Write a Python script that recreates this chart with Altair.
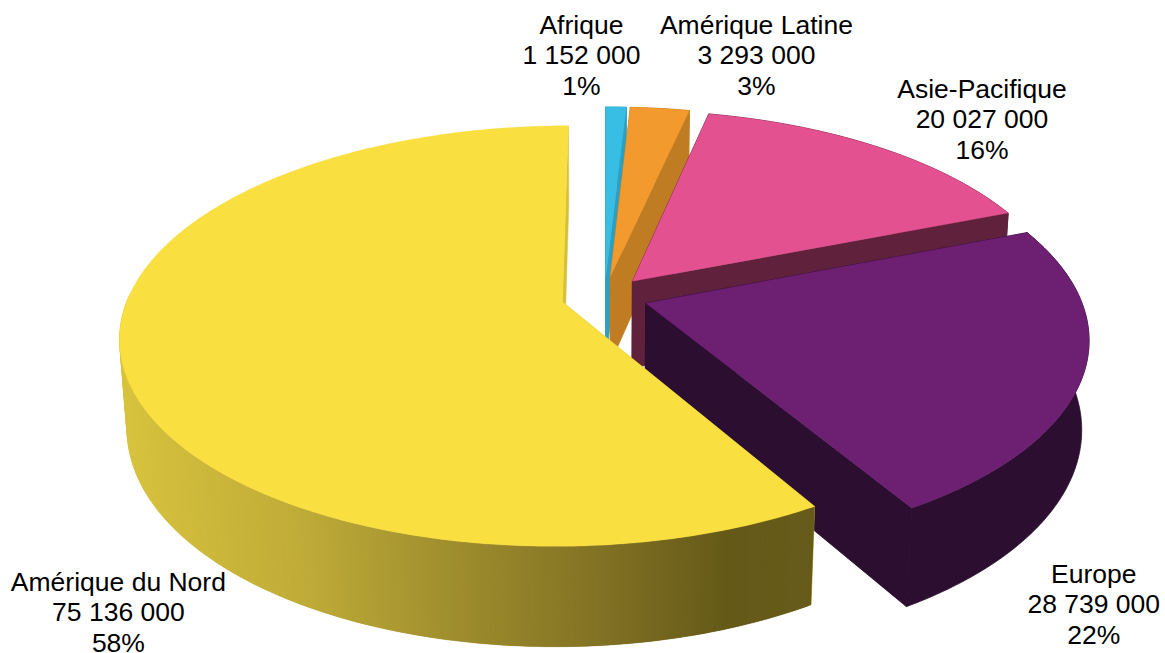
import math
import numpy as np
import altair as alt

# Market figures per region, listed clockwise from twelve o'clock
regions = ["Afrique", "Amérique Latine", "Asie-Pacifique", "Europe", "Amérique du Nord"]
values = [1152000, 3293000, 20027000, 28739000, 75136000]
shares = ["1%", "3%", "16%", "22%", "58%"]
value_labels = ["1 152 000", "3 293 000", "20 027 000", "28 739 000", "75 136 000"]

top_colors = ["#38bde4", "#f29a2e", "#e45190", "#6d1f71", "#f9df3f"]
side_colors = ["#2e9fc0", "#c07c22", "#60213c", "#2b0e30", "#d5c038"]

# Camera model of the tilted disc
CENTER_X, CENTER_Y = 604.5, 296.5
RADIUS_X, RADIUS_Y = 434.0, 203.0
TILT = 0.1617
THICKNESS = 89.0
THICK_TILT = 0.015
EXPLODE = 0.10

# Shading of the big slice's rim, from left to right on screen
RIM_X = [120, 300, 400, 500, 600, 700, 730, 810]
RIM_RGB = [(216, 195, 62), (192, 172, 56), (170, 152, 50), (150, 133, 42),
           (130, 114, 36), (108, 95, 28), (101, 89, 24), (102, 91, 26)]

# Label nudges from the slice's rim point, in pixels
LABEL_NUDGE = [(-34.5, -81), (96.5, -82.5), (104, -57.5), (10, 201.5), (-3, 224)]


def project(px, pz, depth=0.0):
    w = 1 + TILT * pz + THICK_TILT * depth
    return (CENTER_X + RADIUS_X * px / w,
            CENTER_Y + (-RADIUS_Y * pz + THICKNESS * depth) / w)


def polar(deg, radius=1.0):
    a = math.radians(deg)
    return math.sin(a) * radius, math.cos(a) * radius


def rim_color(x):
    rgb = [np.interp(x, RIM_X, [c[i] for c in RIM_RGB]) for i in range(3)]
    return "#%02x%02x%02x" % tuple(int(round(v)) for v in rgb)


def feature(points, color, stroke=0.5):
    ring = [list(p) for p in points] + [list(points[0])]
    return {
        "type": "Feature",
        "geometry": {"type": "Polygon", "coordinates": [ring]},
        "properties": {"fill": color, "sw": stroke},
    }


features = []
labels = []
total = sum(values)
start = 0.0
last = len(values) - 1
for i, value in enumerate(values):
    sweep = 360.0 * value / total
    mid = start + sweep / 2
    ox, oz = polar(mid, EXPLODE)

    steps = max(3, int(sweep / 0.5))
    angles = [start + sweep * j / steps for j in range(steps + 1)]
    rim = [(ox + polar(a)[0], oz + polar(a)[1]) for a in angles]

    def wall():
        return [project(*p) for p in rim] + [project(*p, 1.0) for p in reversed(rim)]

    def cut(edge):
        return [project(ox, oz), project(*edge), project(*edge, 1.0), project(ox, oz, 1.0)]

    if i != last:
        # flat-shaded slice: back wall first, then the radial faces
        features.append(feature(wall(), side_colors[i], 0.8))
        features.append(feature(cut(rim[0]), side_colors[i], 0.8))
        features.append(feature(cut(rim[-1]), side_colors[i], 0.8))
    else:
        # shaded slice: radial faces first, then the front wall in overlapping strips
        features.append(feature(cut(rim[0]), side_colors[i]))
        features.append(feature(cut(rim[-1]), side_colors[i]))
        for j in range(len(rim) - 1):
            a, b = rim[j], rim[min(j + 2, len(rim) - 1)]
            if rim[j][1] > 0:
                continue
            quad = [project(*a), project(*b), project(*b, 1.0), project(*a, 1.0)]
            features.append(feature(quad, rim_color(project(*rim[j])[0]), 0.2))

    top = [project(ox, oz)] + [project(*p) for p in rim]
    features.append(feature(top, top_colors[i], 0.3))

    ax, ay = project(*polar(mid, 1 + EXPLODE))
    labels.append({
        "text": f"{regions[i]}\n{value_labels[i]}\n{shares[i]}",
        "x": ax + LABEL_NUDGE[i][0],
        "y": ay + LABEL_NUDGE[i][1],
    })
    start += sweep

pie = (
    alt.Chart(alt.InlineData(values=features))
    .mark_geoshape()
    .encode(
        fill=alt.Fill("properties.fill:N", scale=None),
        stroke=alt.Stroke("properties.fill:N", scale=None),
        strokeWidth=alt.StrokeWidth("properties.sw:Q", scale=None),
    )
    .project(type="identity", scale=1, translate=[0, 0])
)

text = (
    alt.Chart(alt.InlineData(values=labels))
    .mark_text(font="Liberation Sans", fontSize=26.5, color="#000000",
               lineBreak="\n", lineHeight=30.5, align="center", baseline="middle")
    .encode(
        x=alt.X("x:Q", scale=None, axis=None),
        y=alt.Y("y:Q", scale=None, axis=None),
        text="text:N",
    )
)

chart = (
    alt.layer(pie, text)
    .properties(width=1165, height=653, padding=0, autosize=alt.AutoSizeParams(type="none"))
    .configure_view(stroke=None)
)

chart.save("out.html", embed_options={"renderer": "svg", "actions": False})
